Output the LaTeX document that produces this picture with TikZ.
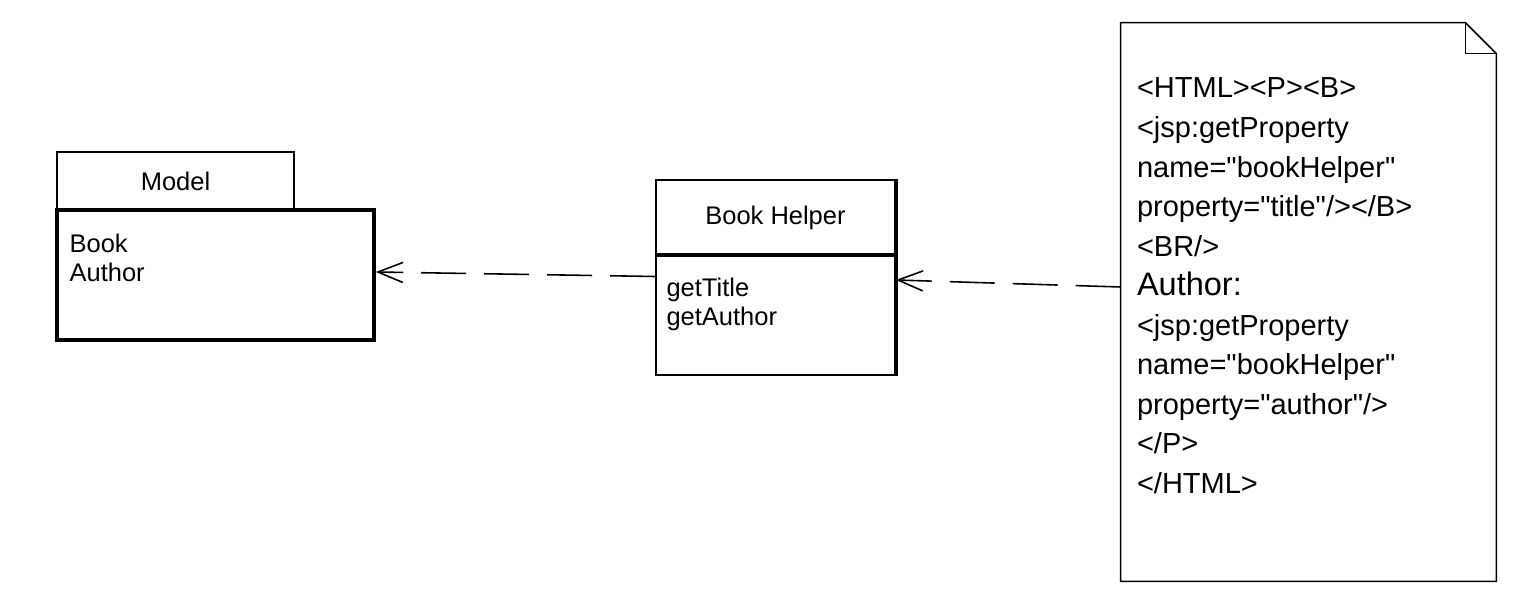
\documentclass[tikz,border=0pt]{standalone}
\usepackage{fontspec}
\newfontfamily\umlfont{Liberation Sans}
\usetikzlibrary{arrows.meta,positioning}

\begin{document}
\begin{tikzpicture}[
	thin line/.style={line width=0.9pt},
	thick line/.style={line width=2pt},
	box/.style={draw, thin line, rectangle, inner sep=0pt},
	classtext/.style={inner sep=0pt, align=left, font=\umlfont\fontsize{14.5}{17}\selectfont},
	dep/.style={thin line, dash pattern=on 0.9cm off 0.36cm, -{Straight Barb[length=0.5cm,width=0.4cm]}}
	]
	\useasboundingbox (0,0) rectangle (30.28,11.92);
	\node[box, minimum width=4.74cm, minimum height=1.16cm, font=\umlfont\fontsize{14.5}{17}\selectfont] (modeltab) at (3.51,8.30) {Model};
	\node[box, thick line, minimum width=6.34cm, minimum height=2.60cm] (modelbody) at (4.31,6.42) {};
	\node[classtext, anchor=north west] (modeltext) at ([xshift=0.28cm,yshift=-0.50cm]modelbody.north west) {Book\\Author};
	\node[box, minimum width=4.78cm, minimum height=1.52cm, font=\umlfont\fontsize{14.5}{17}\selectfont] (helperhead) at (15.51,7.56) {Book Helper};
	\node[box, minimum width=4.78cm, minimum height=2.38cm] (helperbody) at (15.51,5.61) {};
	\draw[thick line] (helperhead.north east) -- (helperbody.south east);
	\draw[thick line] (helperbody.north west) -- (helperbody.north east);
	\node[classtext, anchor=north west] (helpertext) at ([xshift=0.22cm,yshift=-0.44cm]helperbody.north west) {getTitle\\getAuthor};
	\node[minimum width=7.5cm, minimum height=11.16cm, inner sep=0pt] (note) at (26.17,5.88) {};
	\draw[thin line] (note.south west) -- (note.north west) -- ([xshift=-0.62cm]note.north east) -- ([yshift=-0.62cm]note.north east) -- (note.south east) -- cycle;
	\draw[thin line] ([xshift=-0.62cm]note.north east) |- ([yshift=-0.62cm]note.north east);
	\node[inner sep=0pt, align=left, anchor=north west, font=\umlfont\fontsize{16.5}{22.5}\selectfont] (notetext) at ([xshift=0.32cm,yshift=-1.10cm]note.north west) {<HTML><P><B>\\<jsp:getProperty\\name="bookHelper"\\property="title"/></B>\\<BR/>\\{\fontsize{18.5}{22.5}\selectfont Author:}\\<jsp:getProperty\\name="bookHelper"\\property="author"/>\\</P>\\</HTML>};
	\draw[dep] ([yshift=0.78cm]helperbody.west) -- ([yshift=0.06cm]modelbody.east);
	\draw[dep] ([yshift=0.30cm]note.west) -- ([yshift=0.71cm]helperbody.east);
\end{tikzpicture}
\end{document}
